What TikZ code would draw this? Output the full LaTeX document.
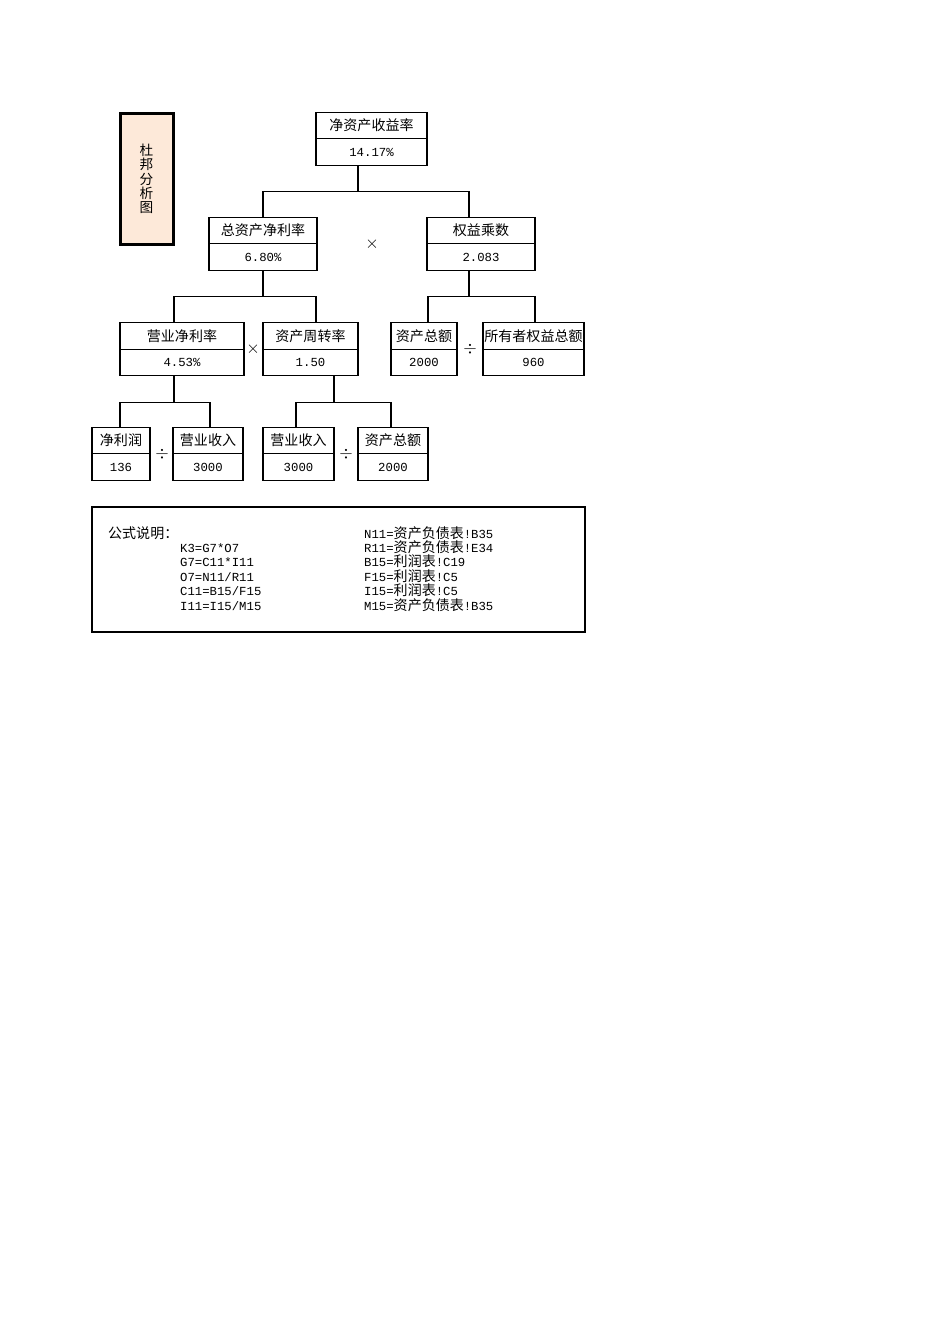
\documentclass[tikz,border=0pt]{standalone}
\usepackage{fontspec}
\setmainfont{Liberation Mono}
\newfontfamily\cjk{Noto Sans CJK SC}[Scale=1.14]
\newcommand\zh[1]{{\cjk #1}}
\usetikzlibrary{positioning}
\definecolor{peach}{HTML}{FDE9D9}
\tikzset{
	cell/.style={draw, line width=1.1pt, inner sep=0pt, outer sep=0pt, minimum height=26.5pt},
	op/.style={inner sep=0pt, font=\fontsize{19}{19}\selectfont},
	link/.style={line width=1.1pt},
	noteline/.style={anchor=base west, inner sep=0pt}
}
\begin{document}
\begin{tikzpicture}[x=1pt, y=-1pt, font=\fontsize{12.3}{14.4}\selectfont, line join=miter]
		\useasboundingbox (0,0) rectangle (950,1344);
		% tiêu đề
		\node[draw, line width=3pt, fill=peach, minimum width=53pt, minimum height=131pt, align=center, inner sep=0pt,
			font=\fontsize{12}{14.3}\selectfont] (title) at (146.5,179) {\zh{杜}\\\zh{邦}\\\zh{分}\\\zh{析}\\\zh{图}};
		% hàng 1
		\node[cell, minimum width=111pt] (roe) at (371.5,125.5) {\zh{净资产收益率}};
		\node[cell, minimum width=111pt, below=0pt of roe] (roev) {14.17\%};
		% hàng 2
		\node[cell, minimum width=108pt] (roa) at (263,230.5) {\zh{总资产净利率}};
		\node[cell, minimum width=108pt, below=0pt of roa] (roav) {6.80\%};
		\node[cell, minimum width=108pt] (em) at (481,230.5) {\zh{权益乘数}};
		\node[cell, minimum width=108pt, below=0pt of em] (emv) {2.083};
		\node[op] (m1) at (372,244) {$\times$};
		% hàng 3
		\node[cell, minimum width=124pt] (npm) at (182,336) {\zh{营业净利率}};
		\node[cell, minimum width=124pt, below=0pt of npm] (npmv) {4.53\%};
		\node[cell, minimum width=95pt] (tat) at (310.5,336) {\zh{资产周转率}};
		\node[cell, minimum width=95pt, below=0pt of tat] (tatv) {1.50};
		\node[cell, minimum width=66pt] (ta) at (424,336) {\zh{资产总额}};
		\node[cell, minimum width=66pt, below=0pt of ta] (tav) {2000};
		\node[cell, minimum width=101pt] (eq) at (533.5,336) {\zh{所有者权益总额}};
		\node[cell, minimum width=101pt, below=0pt of eq] (eqv) {960};
		\node[op] (m2) at (253,349) {$\times$};
		\node[op] (d1) at (470,349) {$\div$};
		% hàng 4
		\node[cell, minimum width=58pt] (np) at (121,440.5) {\zh{净利润}};
		\node[cell, minimum width=58pt, below=0pt of np] (npv) {136};
		\node[cell, minimum width=70pt] (rev) at (208,440.5) {\zh{营业收入}};
		\node[cell, minimum width=70pt, below=0pt of rev] (revv) {3000};
		\node[cell, minimum width=71pt] (revb) at (298.5,440.5) {\zh{营业收入}};
		\node[cell, minimum width=71pt, below=0pt of revb] (revbv) {3000};
		\node[cell, minimum width=70pt] (tab) at (393,440.5) {\zh{资产总额}};
		\node[cell, minimum width=70pt, below=0pt of tab] (tabv) {2000};
		\node[op] (d2) at (162,454) {$\div$};
		\node[op] (d3) at (346,454) {$\div$};
		% đường nối
		\draw[link] ([xshift=-13.5pt]roev.south) -- ++(0,26) coordinate (j1);
		\draw[link] (roa.north) |- (j1) -| ([xshift=-12pt]em.north);
		\draw[link] (roav.south) -- ++(0,26) coordinate (j2);
		\draw[link] ([xshift=-8pt]npm.north) |- (j2) -| ([xshift=5.5pt]tat.north);
		\draw[link] ([xshift=-12pt]emv.south) -- ++(0,26) coordinate (j3);
		\draw[link] ([xshift=4pt]ta.north) |- (j3) -| ([xshift=1.5pt]eq.north);
		\draw[link] ([xshift=-8pt]npmv.south) -- ++(0,27) coordinate (j4);
		\draw[link] ([xshift=-1pt]np.north) |- (j4) -| ([xshift=2pt]rev.north);
		\draw[link] ([xshift=23.5pt]tatv.south) -- ++(0,27) coordinate (j5);
		\draw[link] ([xshift=-2.5pt]revb.north) |- (j5) -| ([xshift=-2pt]tab.north);
		% công thức
		\node[draw, line width=1.3pt, minimum width=493pt, minimum height=125pt, inner sep=0pt] (note) at (338.5,569.5) {};
		\node[noteline] (notet) at (108,538) {\zh{公式说明：}};
		\foreach \t [count=\i] in {K3=G7*O7, G7=C11*I11, O7=N11/R11, C11=B15/F15, I11=I15/M15}
			\node[noteline] (fl\i) at (180,538+14.4*\i) {\t};
		\foreach \t [count=\i from 0] in {N11=\zh{资产负债表}!B35, R11=\zh{资产负债表}!E34, B15=\zh{利润表}!C19,
				F15=\zh{利润表}!C5, I15=\zh{利润表}!C5, M15=\zh{资产负债表}!B35}
			\node[noteline] (fr\i) at (364,538+14.4*\i) {\t};
		\end{tikzpicture}
\end{document}
